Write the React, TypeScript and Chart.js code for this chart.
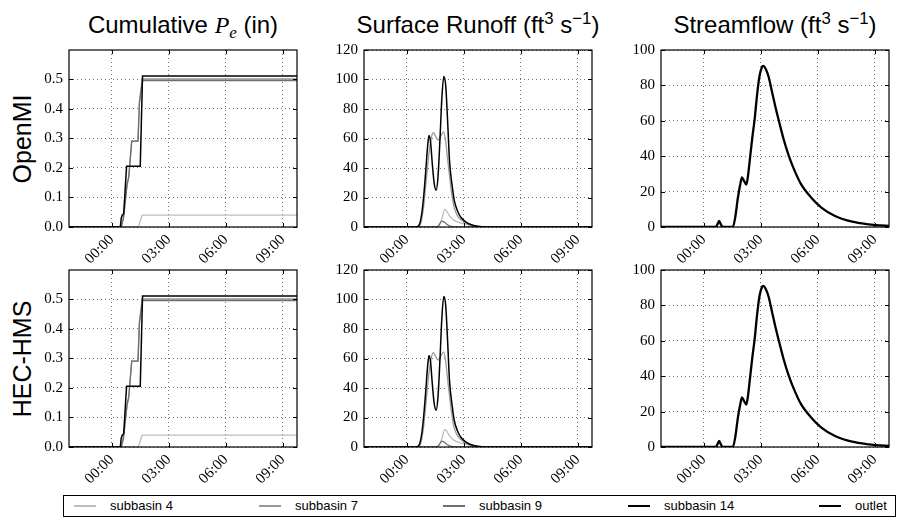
import React, { useEffect, useRef } from 'react';
import { Chart, registerables } from 'chart.js';
Chart.register(...registerables);

// ---------- tick labels ----------
const timeTicks = [0, 3, 6, 9];
const cumTicks = [0, 0.1, 0.2, 0.3, 0.4, 0.5];
const runoffTicks = [0, 20, 40, 60, 80, 100, 120];
const flowTicks = [0, 20, 40, 60, 80, 100];
const X_MIN = -2.25;
const X_MAX = 9.75;

// ---------- series (time in hours, value) ----------
type Pt = [number, number];
const cumSub4: Pt[] = [[-2.25, 0], [1.4, 0], [1.6, 0.04], [10, 0.04]];
const cumSub7: Pt[] = [[-2.25, 0], [0.5, 0], [0.6, 0.03], [0.8, 0.14], [0.88, 0.16], [1.05, 0.29], [1.38, 0.29], [1.45, 0.42], [1.6, 0.5], [10, 0.5]];
const cumSub9: Pt[] = [[-2.25, 0], [0.5, 0], [0.62, 0.03], [0.82, 0.15], [0.9, 0.17], [1.05, 0.29], [1.38, 0.29], [1.46, 0.42], [1.62, 0.495], [10, 0.495]];
const cumSub14: Pt[] = [[-2.25, 0], [0.45, 0], [0.5, 0.03], [0.55, 0.04], [0.63, 0.045], [0.78, 0.205], [1.5, 0.205], [1.62, 0.51], [10, 0.51]];

const runSub4: Pt[] = [[-2.25, 0], [1.6, 0], [1.75, 2], [1.88, 7], [2.0, 12], [2.12, 10.5], [2.25, 7.5], [2.4, 5.5], [2.6, 3.8], [2.95, 2.3], [3.5, 1], [4, 0.3], [4.5, 0], [10, 0]];
const runSub7: Pt[] = [[-2.25, 0], [0.6, 0], [0.75, 3], [0.9, 15], [1.05, 35], [1.17, 50], [1.3, 61], [1.4, 64], [1.5, 62], [1.65, 59], [1.8, 62], [1.94, 64.5], [2.05, 58], [2.15, 46], [2.24, 36], [2.35, 24], [2.5, 13], [2.7, 7], [2.95, 4], [3.3, 1.5], [3.66, 0.5], [4, 0], [10, 0]];
const runSub9: Pt[] = [[-2.25, 0], [1.6, 0], [1.7, 1.5], [1.85, 4], [2.0, 3], [2.15, 1.5], [2.3, 0.6], [2.5, 0.1], [2.7, 0], [10, 0]];
const runSub14: Pt[] = [[-2.25, 0], [0.5, 0], [0.6, 0.5], [0.7, 3], [0.8, 10], [0.9, 22], [1.0, 38], [1.1, 55], [1.17, 62], [1.25, 58], [1.35, 42], [1.45, 29], [1.55, 25], [1.65, 35], [1.75, 60], [1.85, 88], [1.95, 102], [2.05, 96], [2.15, 72], [2.25, 45], [2.4, 27], [2.5, 18], [2.7, 10], [2.86, 6.4], [3.1, 3.5], [3.4, 1.5], [3.8, 0.3], [4.2, 0], [10, 0]];

const flowOutlet: Pt[] = [[-2.25, 0], [0.63, 0], [0.72, 1.5], [0.81, 3.4], [0.9, 1.5], [1.0, 0], [1.53, 0], [1.65, 5], [1.8, 16.7], [1.92, 24], [2.01, 28], [2.12, 26], [2.24, 24], [2.33, 29], [2.42, 37.5], [2.55, 50], [2.69, 62], [2.8, 74], [2.93, 85], [3.05, 90], [3.14, 91], [3.25, 89.5], [3.41, 85], [3.6, 76], [3.77, 68], [4.0, 58], [4.22, 49], [4.45, 41], [4.67, 34.7], [5.12, 24.2], [5.65, 16.7], [6.19, 11], [6.91, 6.2], [7.81, 3], [8.7, 1.5], [9.3, 0.9], [9.85, 0.5], [10, 0.45]];

// ---------- styles ----------
const STYLE = {
  sub4: { color: '#bdbdbd', width: 1.3 },
  sub7: { color: '#999999', width: 1.3 },
  sub9: { color: '#6f6f6f', width: 1.3 },
  sub14: { color: '#000000', width: 1.5 },
  outlet: { color: '#000000', width: 2.3 },
};

const legendItems = [
  { label: 'subbasin 4', ...STYLE.sub4 },
  { label: 'subbasin 7', ...STYLE.sub7 },
  { label: 'subbasin 9', ...STYLE.sub9 },
  { label: 'subbasin 14', ...STYLE.sub14 },
  { label: 'outlet', ...STYLE.outlet },
];

const SERIF = "'Liberation Serif', 'DejaVu Serif', serif";
const SANS = "'Liberation Sans', Arial, Helvetica, sans-serif";

Chart.defaults.font.family = SERIF;
Chart.defaults.font.size = 15;
Chart.defaults.color = '#000';

// ---------- layout ----------
const PLOT_W = 228;
const PLOT_H = 177;
const COL_LEFT = [69, 364, 661];
const ROW_TOP = [50, 270];
const Y_AXIS_W = 56;
const X_AXIS_H = 52;
const PAD_T = 10;
const PAD_R = 8;

function fmtTime(v: number) {
  const h = ((Math.round(v) % 24) + 24) % 24;
  return String(h).padStart(2, '0') + ':00';
}

function ds(data: Pt[], st: { color: string; width: number }, monotone: boolean) {
  return {
    data: data.map(([x, y]) => ({ x, y })),
    borderColor: st.color,
    backgroundColor: st.color,
    borderWidth: st.width,
    pointRadius: 0,
    fill: false,
    tension: monotone ? 0.4 : 0,
    cubicInterpolationMode: monotone ? 'monotone' : 'default',
  };
}

const framePlugin = {
  id: 'frame',
  afterDraw(chart: any) {
    const { ctx, chartArea: a, scales } = chart;
    ctx.save();
    ctx.strokeStyle = '#000';
    ctx.lineWidth = 1.2;
    ctx.strokeRect(a.left, a.top, a.right - a.left, a.bottom - a.top);
    ctx.lineWidth = 1;
    const L = 4;
    ctx.beginPath();
    for (const t of scales.x.ticks) {
      const px = Math.round(scales.x.getPixelForValue(t.value)) + 0.5;
      ctx.moveTo(px, a.bottom);
      ctx.lineTo(px, a.bottom - L);
      ctx.moveTo(px, a.top);
      ctx.lineTo(px, a.top + L);
    }
    for (const t of scales.y.ticks) {
      const py = Math.round(scales.y.getPixelForValue(t.value)) + 0.5;
      ctx.moveTo(a.left, py);
      ctx.lineTo(a.left + L, py);
      ctx.moveTo(a.right, py);
      ctx.lineTo(a.right - L, py);
    }
    ctx.stroke();
    ctx.restore();
  },
};

type PanelProps = {
  col: number;
  row: number;
  datasets: any[];
  yMax: number;
  yTicks: number[];
  decimals: number;
};

function Panel({ col, row, datasets, yMax, yTicks, decimals }: PanelProps) {
  const ref = useRef<HTMLCanvasElement>(null);
  const W = Y_AXIS_W + PLOT_W + PAD_R;
  const H = PAD_T + PLOT_H + X_AXIS_H;
  useEffect(() => {
    const gridCommon = { color: 'rgba(0,0,0,0.55)', lineWidth: 1, drawTicks: false };
    const chart = new Chart(ref.current as HTMLCanvasElement, {
      type: 'line',
      data: { datasets },
      options: {
        animation: false,
        responsive: false,
        devicePixelRatio: 1,
        events: [],
        layout: { padding: { top: PAD_T, right: PAD_R, left: 0, bottom: 0 } },
        plugins: { legend: { display: false }, tooltip: { enabled: false } },
        elements: { point: { radius: 0 } },
        scales: {
          x: {
            type: 'linear',
            min: X_MIN,
            max: X_MAX,
            afterBuildTicks: (s: any) => {
              s.ticks = timeTicks.map((value) => ({ value }));
            },
            afterFit: (s: any) => {
              s.height = X_AXIS_H;
              s.paddingLeft = 0;
              s.paddingRight = 0;
            },
            ticks: {
              callback: (v: any) => fmtTime(Number(v)),
              minRotation: 45,
              maxRotation: 45,
              autoSkip: false,
              font: { family: SERIF, size: 15 },
              color: '#000',
              padding: 4,
            },
            grid: gridCommon,
            border: { display: false, dash: [1, 3] },
          },
          y: {
            type: 'linear',
            min: 0,
            max: yMax,
            afterBuildTicks: (s: any) => {
              s.ticks = yTicks.map((value) => ({ value }));
            },
            afterFit: (s: any) => {
              s.width = Y_AXIS_W;
              s.paddingTop = 0;
              s.paddingBottom = 0;
            },
            ticks: {
              callback: (v: any) => Number(v).toFixed(decimals),
              autoSkip: false,
              font: { family: SERIF, size: 15 },
              color: '#000',
              padding: 6,
            },
            grid: gridCommon,
            border: { display: false, dash: [1, 3] },
          },
        },
      } as any,
      plugins: [framePlugin],
    });
    return () => chart.destroy();
  }, []);
  return (
    <canvas
      ref={ref}
      width={W}
      height={H}
      style={{
        position: 'absolute',
        left: COL_LEFT[col] - Y_AXIS_W,
        top: ROW_TOP[row] - PAD_T,
        width: W,
        height: H,
      }}
    />
  );
}

function cumDatasets() {
  return [
    ds(cumSub14, STYLE.sub14, false),
    ds(cumSub9, STYLE.sub9, false),
    ds(cumSub7, STYLE.sub7, false),
    ds(cumSub4, STYLE.sub4, false),
  ];
}
function runoffDatasets() {
  return [
    ds(runSub14, STYLE.sub14, true),
    ds(runSub9, STYLE.sub9, true),
    ds(runSub7, STYLE.sub7, true),
    ds(runSub4, STYLE.sub4, true),
  ];
}
function flowDatasets() {
  return [ds(flowOutlet, STYLE.outlet, true)];
}

const supStyle: React.CSSProperties = { fontSize: '0.7em', position: 'relative', top: '-0.55em' };

function Title({ col, children }: { col: number; children: React.ReactNode }) {
  return (
    <div
      style={{
        position: 'absolute',
        left: COL_LEFT[col] - 60,
        width: PLOT_W + 120,
        top: 11,
        lineHeight: '28px',
        fontSize: 24,
        fontFamily: SANS,
        textAlign: 'center',
        whiteSpace: 'nowrap',
        color: '#000',
      }}
    >
      {children}
    </div>
  );
}

function RowLabel({ row, text }: { row: number; text: string }) {
  return (
    <div
      style={{
        position: 'absolute',
        left: 22,
        top: ROW_TOP[row] + PLOT_H / 2,
        transform: 'translate(-50%, -50%) rotate(-90deg)',
        fontFamily: SANS,
        fontSize: 25,
        lineHeight: '25px',
        whiteSpace: 'nowrap',
        color: '#000',
      }}
    >
      {text}
    </div>
  );
}

const LEGEND_X = [10, 195, 379, 564, 755];

function Legend() {
  return (
    <div
      style={{
        position: 'absolute',
        left: 63,
        top: 495,
        width: 833,
        height: 22,
        boxSizing: 'border-box',
        border: '1px solid #000',
        background: '#fff',
      }}
    >
      {legendItems.map((it, i) => (
        <div key={it.label} style={{ position: 'absolute', left: LEGEND_X[i], top: 0, height: 20 }}>
          <div
            style={{
              position: 'absolute',
              left: 0,
              top: 10 - it.width / 2,
              width: 22,
              height: it.width,
              background: it.color,
            }}
          />
          <div
            style={{
              position: 'absolute',
              left: 36,
              top: 0,
              lineHeight: '20px',
              fontFamily: SANS,
              fontSize: 13,
              whiteSpace: 'nowrap',
              color: '#000',
            }}
          >
            {it.label}
          </div>
        </div>
      ))}
    </div>
  );
}

export default function App() {
  return (
    <div style={{ position: 'absolute', left: 0, top: 0, width: 899, height: 519, background: '#fff', overflow: 'hidden' }}>
      <Title col={0}>
        Cumulative <i style={{ fontFamily: SERIF }}>P</i>
        <i style={{ fontFamily: SERIF, fontSize: '0.7em', position: 'relative', top: '0.3em' }}>e</i> (in)
      </Title>
      <Title col={1}>
        Surface Runoff (ft<span style={supStyle}>3</span> s<span style={supStyle}>−1</span>)
      </Title>
      <Title col={2}>
        Streamflow (ft<span style={supStyle}>3</span> s<span style={supStyle}>−1</span>)
      </Title>
      <RowLabel row={0} text="OpenMI" />
      <RowLabel row={1} text="HEC-HMS" />
      {[0, 1].map((row) => (
        <React.Fragment key={row}>
          <Panel col={0} row={row} datasets={cumDatasets()} yMax={0.598} yTicks={cumTicks} decimals={1} />
          <Panel col={1} row={row} datasets={runoffDatasets()} yMax={120} yTicks={runoffTicks} decimals={0} />
          <Panel col={2} row={row} datasets={flowDatasets()} yMax={100} yTicks={flowTicks} decimals={0} />
        </React.Fragment>
      ))}
      <Legend />
    </div>
  );
}
